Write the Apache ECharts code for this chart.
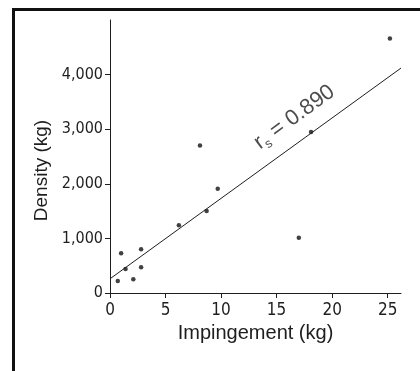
<!DOCTYPE html>
<html>
<head>
<meta charset="utf-8">
<script src="https://cdn.jsdelivr.net/npm/echarts@6/dist/echarts.min.js"></script>
<style>
  html, body { margin: 0; padding: 0; background: #fff; }
  #chart { width: 420px; height: 371px; }
</style>
</head>
<body>
<div id="chart"></div>
<script>
// impingement (kg) vs density (kg)
const impingement = [0.7, 1.0, 1.4, 2.1, 2.8, 2.8, 6.2, 8.1, 8.7, 9.7, 17.0, 18.1, 25.2]
const density = [220, 730, 440, 250, 800, 470, 1240, 2700, 1500, 1910, 1010, 2950, 4660]
const fitLine = [[0, 260], [26.2, 4120]]
const xTicks = [0, 5, 10, 15, 20, 25]
const yTicks = [0, 1000, 2000, 3000, 4000]
const annotation = [[16.6, 3220]]

const ink = '#1e1e1e'
const narrow = '"Liberation Sans Narrow", "DejaVu Sans Condensed", "Liberation Sans", Arial, sans-serif'
const sans = '"Liberation Sans", Arial, sans-serif'

const chart = echarts.init(document.getElementById('chart'), null, { renderer: 'canvas' })

chart.setOption({
  animation: false,
  backgroundColor: '#fff',
  grid: { left: 110, right: 19, top: 20, bottom: 78 },
  graphic: [{
    type: 'polyline',
    shape: { points: [[13.5, 371], [13.5, 9.5], [420, 9.5]] },
    style: { stroke: '#111', lineWidth: 3, fill: null },
  }],
  xAxis: {
    type: 'value',
    min: 0, max: 26.2,
    name: 'Impingement (kg)',
    nameLocation: 'middle',
    nameGap: 28,
    nameTextStyle: { color: ink, fontSize: 20, fontFamily: sans },
    axisLine: { onZero: false, lineStyle: { color: ink, width: 1 } },
    axisTick: { customValues: xTicks, length: 5, lineStyle: { color: ink } },
    axisLabel: { customValues: xTicks, color: ink, fontSize: 17, fontFamily: narrow, margin: 9 },
    splitLine: { show: false },
  },
  yAxis: {
    type: 'value',
    min: 0, max: 5000,
    name: 'Density (kg)',
    nameLocation: 'middle',
    nameGap: 50,
    nameTextStyle: { color: ink, fontSize: 19, fontFamily: sans, padding: [0, 28, 0, 0] },
    axisLine: { show: true, onZero: false, lineStyle: { color: ink, width: 1 } },
    axisTick: { customValues: yTicks, length: 5, lineStyle: { color: ink } },
    axisLabel: {
      customValues: yTicks, color: ink, fontSize: 16, fontFamily: narrow, margin: 7,
      formatter: (v) => v.toLocaleString('en-US'),
    },
    splitLine: { show: false },
  },
  series: [
    {
      type: 'line',
      data: fitLine,
      showSymbol: false,
      lineStyle: { color: ink, width: 1 },
      silent: true,
    },
    {
      type: 'scatter',
      data: impingement.map((x, i) => [x, density[i]]),
      symbolSize: 4.5,
      itemStyle: { color: '#111' },
    },
    {
      type: 'scatter',
      data: annotation,
      symbolSize: 0,
      silent: true,
      label: {
        show: true,
        position: 'inside',
        rotate: 36,
        formatter: '{r|r}{s|s}{t| = 0.890}',
        rich: {
          r: { fontSize: 22, lineHeight: 26, fontFamily: sans, color: ink },
          s: { fontSize: 13, lineHeight: 13, verticalAlign: 'bottom', fontFamily: sans, color: ink },
          t: { fontSize: 22, lineHeight: 26, fontFamily: sans, color: ink },
        },
      },
    },
  ],
})
</script>
</body>
</html>
